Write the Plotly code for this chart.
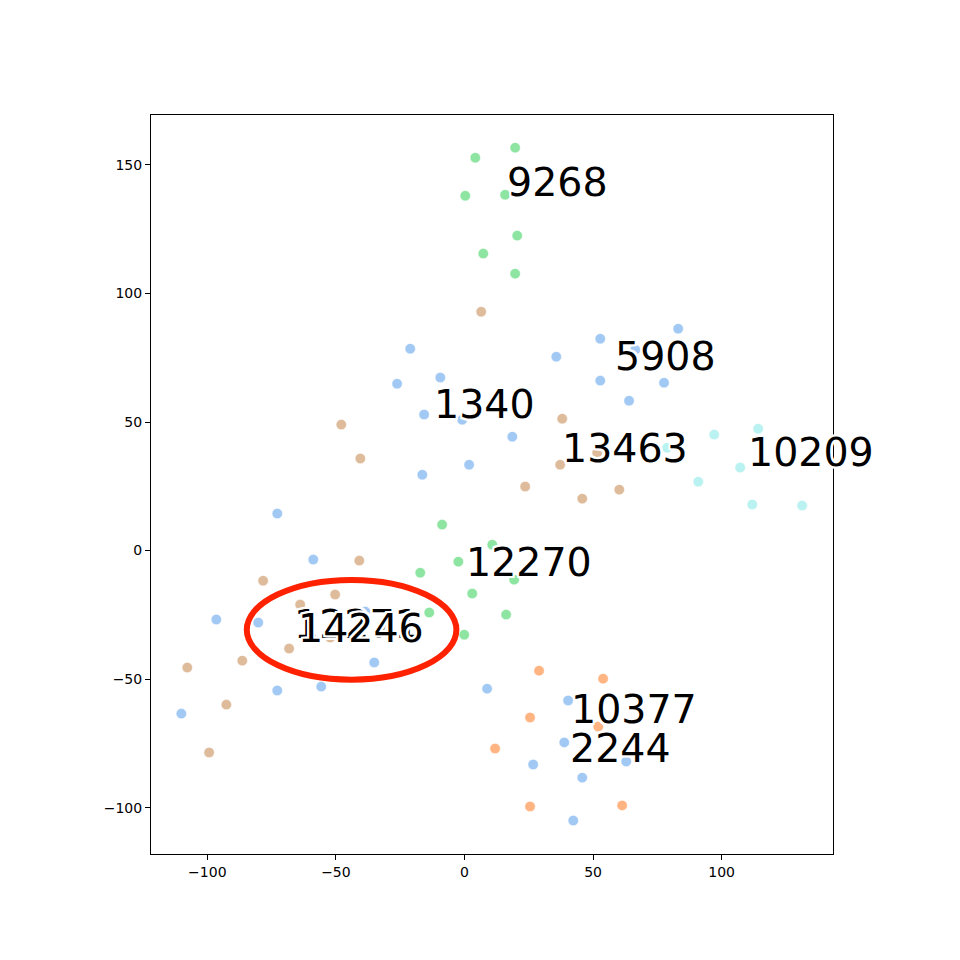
import plotly.graph_objects as go

# ---- data ----
green_x = [19.7, 4.2, 0.3, 15.8, 20.5, 7.3, 19.7, -8.7, 10.8, -2.4, -17.2, 19.3, 3.0, -13.7, 16.2, -0.1]
green_y = [156.7, 152.8, 138.0, 138.4, 122.5, 115.5, 107.7, 10.1, 2.3, -4.3, -8.6, -11.3, -16.7, -24.1, -24.9, -32.7]

blue_x = [-21.1, -26.2, -9.4, -15.7, -0.9, 18.6, 1.8, -16.4, 35.7, 52.8, 83.1, 52.8, 77.6, 64.0, 66.4,
          -72.8, -58.8, -96.5, -80.2, -38.6, -72.8, -55.7, -35.1, -110.1, 8.8, 40.3, 38.8, 26.7, 45.8, 42.3, 62.9]
blue_y = [78.5, 64.9, 67.3, 52.9, 50.9, 44.3, 33.4, 29.5, 75.4, 82.4, 86.3, 66.1, 65.3, 58.3, 78.1,
          14.4, -3.5, -26.8, -28.0, -23.7, -54.4, -52.9, -43.5, -63.4, -53.7, -58.3, -74.6, -83.2, -88.3, -105.0, -82.0]

orange_x = [29.0, 53.9, 25.5, 52.0, 11.9, 25.5, 61.3]
orange_y = [-46.7, -49.8, -64.9, -68.4, -77.0, -99.5, -99.1]

tan_x = [6.5, -47.9, -40.5, 38.0, 37.2, 23.6, 45.8, 60.2, 51.6, -40.9, -78.3, -50.3, -63.9, -68.2, -52.2,
         -86.4, -107.8, -92.6, -99.3]
tan_y = [92.9, 49.0, 35.8, 51.3, 33.4, 24.9, 20.2, 23.7, 38.1, -3.9, -11.7, -17.1, -21.0, -38.1, -33.8,
         -42.8, -45.5, -59.9, -78.5]

cyan_x = [97.1, 114.2, 107.2, 90.9, 111.9, 131.3, 78.8]
cyan_y = [45.1, 47.4, 32.3, 26.8, 17.9, 17.5, 40.0]

label_text = ["9268", "5908", "1340", "13463", "10209", "12270", "12271", "14246", "10377", "2244"]
label_x = [15.6, 57.9, -12.5, 37.2, 109.5, -0.1, -66.9, -65.5, 40.7, 40.4]
label_y = [143.4, 75.7, 57.1, 40.0, 38.4, -4.4, -28.7, -30.2, -61.5, -76.7]

x_ticks = [-100, -50, 0, 50, 100]
y_ticks = [-100, -50, 0, 50, 100, 150]

ellipse_center = (-43.9, -30.8)
ellipse_w, ellipse_h = 81.5, 38.8

# ---- figure ----
series = [
    (blue_x, blue_y, "#a1c9f4"),
    (orange_x, orange_y, "#ffb482"),
    (green_x, green_y, "#8de5a1"),
    (tan_x, tan_y, "#debb9b"),
    (cyan_x, cyan_y, "#b9f2f0"),
]

fig = go.Figure()
for xs, ys, col in series:
    fig.add_trace(go.Scatter(
        x=xs, y=ys, mode="markers",
        marker=dict(size=10.5, color=col, line=dict(color="white", width=0.6)),
        showlegend=False, hoverinfo="skip",
    ))

shadow = ", ".join(f"white {dx}px {dy}px 0px" for dx, dy in
                   [(-2, -2), (2, -2), (-2, 2), (2, 2), (0, 2), (0, -2), (2, 0), (-2, 0)])
for t, x, y in zip(label_text, label_x, label_y):
    fig.add_annotation(
        x=x, y=y, text=t, showarrow=False, xanchor="left", yanchor="middle",
        font=dict(family="DejaVu Sans", size=39.5, color="black", shadow=shadow),
    )

cx, cy = ellipse_center
fig.add_shape(type="circle", xref="x", yref="y",
              x0=cx - ellipse_w / 2, x1=cx + ellipse_w / 2,
              y0=cy - ellipse_h / 2, y1=cy + ellipse_h / 2,
              line=dict(color="#ff2200", width=6), layer="above")

axis_common = dict(
    showgrid=False, zeroline=False, showline=True, linecolor="black", linewidth=1,
    mirror=True, ticks="outside", ticklen=5, tickwidth=1, tickcolor="black",
    tickfont=dict(family="DejaVu Sans", size=14, color="black"),
)
fig.update_xaxes(range=[-121.9, 143.3], tickvals=x_ticks, **axis_common)
fig.update_yaxes(range=[-118.0, 169.4], tickvals=y_ticks, **axis_common)

fig.update_layout(
    width=960, height=960,
    margin=dict(l=143, r=135, t=107, b=114),
    paper_bgcolor="white", plot_bgcolor="white",
)

fig.write_html("out.html")
